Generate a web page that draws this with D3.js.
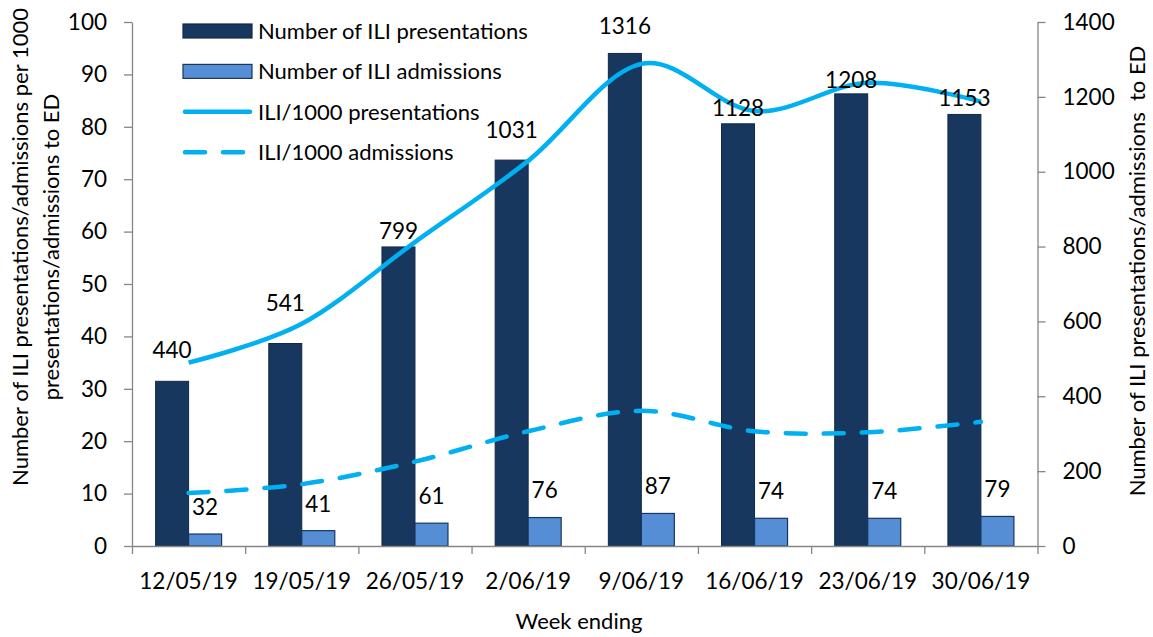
<!DOCTYPE html>
<html lang="en">
<head>
<meta charset="utf-8">
<title>ILI presentations and admissions to ED</title>
<script src="https://cdn.jsdelivr.net/npm/d3@7"></script>
<style>
  body { margin: 0; background: #fff; }
  svg text { font-family: Lato, "Open Sans", sans-serif; fill: #000; }
</style>
</head>
<body>
<div id="chart"></div>
<script>
const weeks = ["12/05/19", "19/05/19", "26/05/19", "2/06/19", "9/06/19", "16/06/19", "23/06/19", "30/06/19"];
const presentations = [440, 541, 799, 1031, 1316, 1128, 1208, 1153];
const admissions = [32, 41, 61, 76, 87, 74, 74, 79];
const iliPerPres = [35.0, 42.4, 58.0, 73.5, 92.0, 83.0, 88.4, 84.8];
const iliPerAdm = [10.1, 11.8, 16.1, 21.9, 25.8, 21.9, 21.7, 23.7];
const leftTicks = d3.range(0, 101, 10);
const rightTicks = d3.range(0, 1401, 200);
// some labels were dragged up in the original to clear the line
const labelLift = [15, 24, 0, 14, 11, 0, -2, 0];

const w = 1153, h = 637;
const plotL = 132, plotR = 1037.5, plotT = 22, plotB = 546;
const barW = 33;
const axisColor = "#868686";
const lineColor = "#00B0F0";
const numSize = "22.5px";

const svg = d3.select("#chart").append("svg")
  .attr("width", w)
  .attr("height", h);

const x = d3.scaleBand().domain(weeks).range([plotL, plotR]).padding(0);
const cx = (d) => x(d) + x.bandwidth() / 2;
const yL = d3.scaleLinear().domain([0, 100]).range([plotB, plotT]);
const yR = d3.scaleLinear().domain([0, 1400]).range([plotB, plotT]);

// bars (right axis)
svg.append("g").selectAll("rect")
  .data(weeks)
  .enter().append("rect")
  .attr("x", (d) => cx(d) - barW)
  .attr("y", (d, i) => yR(presentations[i]))
  .attr("width", barW)
  .attr("height", (d, i) => plotB - yR(presentations[i]))
  .attr("fill", "#17375E")
  .attr("stroke", "#10294A")
  .attr("stroke-width", 1);

svg.append("g").selectAll("rect")
  .data(weeks)
  .enter().append("rect")
  .attr("x", (d) => cx(d))
  .attr("y", (d, i) => yR(admissions[i]))
  .attr("width", barW)
  .attr("height", (d, i) => plotB - yR(admissions[i]))
  .attr("fill", "#558ED5")
  .attr("stroke", "#17375E")
  .attr("stroke-width", 1.2);

// axes
const styleAxis = (g) => {
  g.selectAll("path, line").attr("stroke", axisColor).attr("stroke-width", 1.3);
  g.selectAll("text").style("font-size", numSize).attr("fill", "#000");
};

svg.append("g")
  .attr("transform", "translate(" + plotL + ",0)")
  .call(d3.axisLeft(yL).tickValues(leftTicks).tickSize(8).tickSizeOuter(0).tickPadding(17))
  .call(styleAxis);

svg.append("g")
  .attr("transform", "translate(" + plotR + ",0)")
  .call(d3.axisRight(yR).tickValues(rightTicks).tickFormat(d3.format("d")).tickSize(8).tickSizeOuter(0).tickPadding(17))
  .call(styleAxis);

// category axis: ticks sit between the weeks
const xb = d3.scaleLinear().domain([0, weeks.length]).range([plotL, plotR]);
svg.append("g")
  .attr("transform", "translate(0," + plotB + ")")
  .call(d3.axisBottom(xb).tickValues(d3.range(weeks.length + 1)).tickFormat("").tickSize(8).tickSizeOuter(0))
  .call(styleAxis);

svg.append("g")
  .attr("transform", "translate(0," + plotB + ")")
  .call(d3.axisBottom(x).tickSize(0))
  .call((g) => g.select(".domain").remove())
  .call((g) => g.selectAll("text").attr("y", 35).attr("dy", "0.35em").style("font-size", numSize).attr("fill", "#000"));

// lines (left axis)
const line = d3.line()
  .x((d, i) => cx(weeks[i]))
  .y((d) => yL(d))
  .curve(d3.curveCardinal.tension(0));

svg.append("path")
  .datum(iliPerPres)
  .attr("d", line)
  .attr("fill", "none")
  .attr("stroke", lineColor)
  .attr("stroke-width", 4.5);

svg.append("path")
  .datum(iliPerAdm)
  .attr("d", line)
  .attr("fill", "none")
  .attr("stroke", lineColor)
  .attr("stroke-width", 4.5)
  .attr("stroke-linecap", "round")
  .attr("stroke-dasharray", "20,18");

// data labels
svg.append("g").selectAll("text")
  .data(weeks)
  .enter().append("text")
  .attr("x", (d) => cx(d) - barW / 2)
  .attr("y", (d, i) => yR(presentations[i]) - 16 - labelLift[i])
  .attr("dy", "0.35em")
  .attr("text-anchor", "middle")
  .style("font-size", numSize)
  .text((d, i) => presentations[i]);

svg.append("g").selectAll("text")
  .data(weeks)
  .enter().append("text")
  .attr("x", (d) => cx(d) + barW / 2)
  .attr("y", (d, i) => yR(admissions[i]) - 27)
  .attr("dy", "0.35em")
  .attr("text-anchor", "middle")
  .style("font-size", numSize)
  .text((d, i) => admissions[i]);

// legend
const legend = [
  { name: "Number of ILI presentations", type: "bar", fill: "#17375E", stroke: "#10294A" },
  { name: "Number of ILI admissions", type: "bar", fill: "#558ED5", stroke: "#17375E" },
  { name: "ILI/1000 presentations", type: "line", dash: null },
  { name: "ILI/1000 admissions", type: "line", dash: "20,18" }
];
const lg = svg.append("g").selectAll("g")
  .data(legend)
  .enter().append("g")
  .attr("transform", (d, i) => "translate(183," + (31 + i * 40.4) + ")");

lg.filter((d) => d.type === "bar").append("rect")
  .attr("x", 0).attr("y", -7)
  .attr("width", 69).attr("height", 14)
  .attr("fill", (d) => d.fill)
  .attr("stroke", (d) => d.stroke)
  .attr("stroke-width", 1.2);

lg.filter((d) => d.type === "line").append("line")
  .attr("x1", 2).attr("x2", 67)
  .attr("stroke", lineColor)
  .attr("stroke-width", 4.5)
  .attr("stroke-linecap", "round")
  .attr("stroke-dasharray", (d) => d.dash);

lg.append("text")
  .attr("x", 75)
  .attr("dy", "0.35em")
  .style("font-size", "22px")
  .text((d) => d.name);

// axis titles
svg.append("text")
  .attr("transform", "translate(20,247) rotate(-90)")
  .attr("text-anchor", "middle")
  .attr("dy", "0.35em")
  .style("font-size", "22px")
  .text("Number of ILI presentations/admissions per 1000");

svg.append("text")
  .attr("transform", "translate(51,247) rotate(-90)")
  .attr("text-anchor", "middle")
  .attr("dy", "0.35em")
  .style("font-size", "22px")
  .text("presentations/admissions to ED");

svg.append("text")
  .attr("transform", "translate(1137,271) rotate(-90)")
  .attr("text-anchor", "middle")
  .attr("dy", "0.35em")
  .style("font-size", "22px")
  .style("white-space", "pre")
  .text("Number of ILI presentations/admissions  to ED");

svg.append("text")
  .attr("x", 579)
  .attr("y", 621)
  .attr("dy", "0.35em")
  .attr("text-anchor", "middle")
  .style("font-size", "22px")
  .text("Week ending");
</script>
</body>
</html>
